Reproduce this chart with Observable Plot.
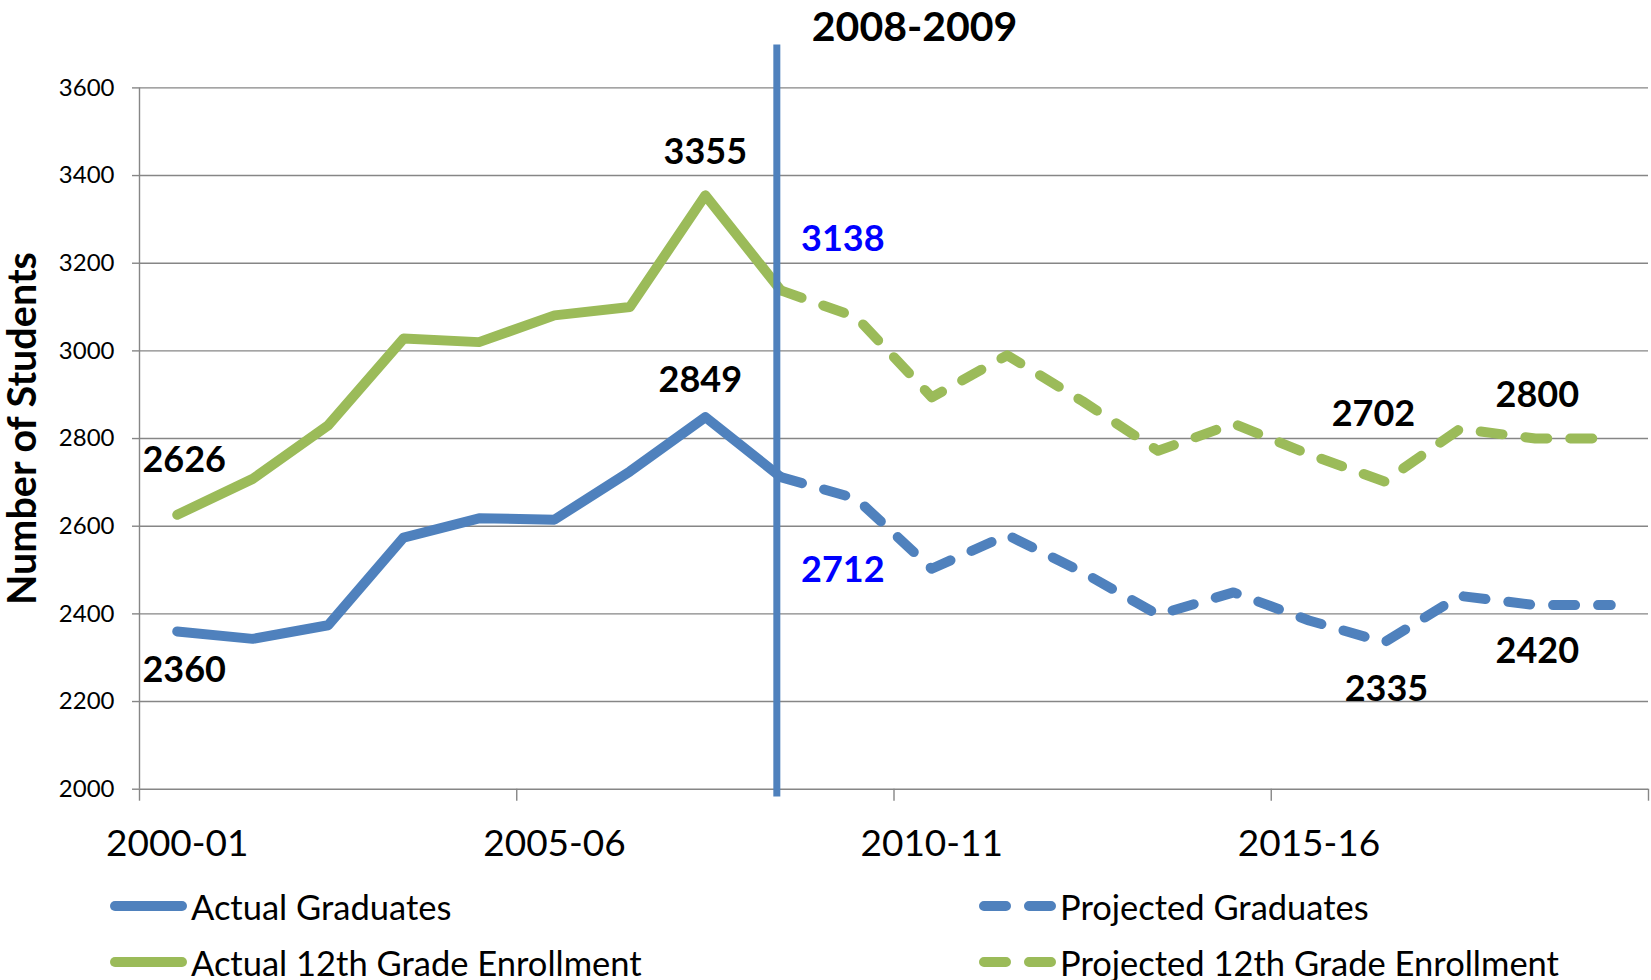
<!DOCTYPE html>
<html><head><meta charset="utf-8">
<script src="https://cdn.jsdelivr.net/npm/d3@7"></script>
<script src="https://cdn.jsdelivr.net/npm/@observablehq/plot@0.6"></script>
<style>
body{margin:0;background:#fff;font-family:Lato,sans-serif;overflow:hidden;}
#legend{display:grid;grid-template-columns:869px auto;padding-left:110px;}
.item{display:flex;align-items:center;height:56px;font-size:34.5px;color:#000;white-space:nowrap;}
.item svg{margin-right:4px;flex:none;}
</style></head><body>
<div id="chart"></div><div id="legend"></div>
<script>
// ---- data ----
const years = ["2000-01","2001-02","2002-03","2003-04","2004-05","2005-06","2006-07","2007-08","2008-09","2009-10",
               "2010-11","2011-12","2012-13","2013-14","2014-15","2015-16","2016-17","2017-18","2018-19","2019-20"];
const actualStart = "2000-01";
const actualGraduates = [2360, 2343, 2374, 2574, 2618, 2615, 2725, 2849, 2712];
const actualEnrollment = [2626, 2708, 2830, 3028, 3020, 3081, 3100, 3355, 3138];
const projectedStart = "2008-09";
const projectedGraduates = [2712, 2663, 2503, 2580, 2495, 2398, 2449, 2385, 2335, 2441, 2420, 2420];
const projectedEnrollment = [3138, 3077, 2894, 2990, 2885, 2772, 2834, 2764, 2702, 2822, 2800, 2800];
const yTicks = [2000, 2200, 2400, 2600, 2800, 3000, 3200, 3400, 3600];
const xTickLabels = ["2000-01", "2005-06", "2010-11", "2015-16"];
const dividerYear = "2008-09";
const dividerLabel = "2008-2009";
const yLabel = "Number of Students";
const seriesNames = ["Actual Graduates", "Projected Graduates", "Actual 12th Grade Enrollment", "Projected 12th Grade Enrollment"];

// ---- styling ----
const blue = "#4F81BD", green = "#9BBB59", gridColor = "#868686";
const dash = "22 23";
const lineW = 10;

const ix = (y) => years.indexOf(y) + 0.5;
const rows = (start, values) => values.map((v, i) => ({x: years.indexOf(start) + i + 0.5, y: v}));
const valueAt = (start, values, year) => values[years.indexOf(year) - years.indexOf(start)];

function label(start, values, year, color, dx, dy) {
  return Plot.text([{x: ix(year), y: valueAt(start, values, year)}], {
    x: "x", y: "y", text: d => String(d.y), dx, dy,
    fill: color, fontSize: 36, fontWeight: "bold"
  });
}

const boundaryTicks = d3.range(0, years.length + 1, 5);

const chart = Plot.plot({
  width: 1651,
  height: 878,
  marginLeft: 139,
  marginRight: 3,
  marginTop: 87.4,
  marginBottom: 89.3,
  style: {fontFamily: "Lato, sans-serif", color: "#000", background: "#fff", overflow: "visible"},
  x: {type: "linear", domain: [0, years.length]},
  y: {domain: [2000, 3600]},
  marks: [
    Plot.gridY(yTicks, {stroke: gridColor, strokeOpacity: 1, strokeWidth: 1.4}),
    Plot.ruleX([0], {y1: 2000, y2: 3600, stroke: gridColor, strokeWidth: 1.4}),
    Plot.axisY({ticks: yTicks, tickSize: 7, tickPadding: 18, fontSize: 24, tickFormat: d3.format("d"),
                stroke: gridColor, strokeWidth: 1.4, label: null}),
    Plot.axisX({ticks: boundaryTicks, tickSize: 12, tickFormat: () => "", stroke: gridColor, strokeWidth: 1.4, label: null}),
    Plot.axisX({ticks: xTickLabels.map(ix), tickSize: 0, tickPadding: 41, fontSize: 37,
                tickFormat: v => years[Math.floor(v)], label: null}),
    Plot.line(rows(actualStart, actualGraduates), {x: "x", y: "y", stroke: blue, strokeWidth: lineW, strokeLinejoin: "round", strokeLinecap: "round"}),
    Plot.line(rows(actualStart, actualEnrollment), {x: "x", y: "y", stroke: green, strokeWidth: lineW, strokeLinejoin: "round", strokeLinecap: "round"}),
    Plot.line(rows(projectedStart, projectedGraduates), {x: "x", y: "y", stroke: blue, strokeWidth: lineW, strokeDasharray: dash, strokeLinejoin: "round", strokeLinecap: "round"}),
    Plot.line(rows(projectedStart, projectedEnrollment), {x: "x", y: "y", stroke: green, strokeWidth: lineW, strokeDasharray: dash, strokeLinejoin: "round", strokeLinecap: "round"}),
    Plot.ruleX([ix(dividerYear)], {y1: 1982, y2: 3698, dx: -4, stroke: blue, strokeWidth: 7}),
    Plot.text([dividerLabel], {x: ix(dividerYear), frameAnchor: "top", dx: 31, dy: -76, textAnchor: "start",
                               fontSize: 41, fontWeight: "bold", fill: "#000"}),
    Plot.text([yLabel], {frameAnchor: "left", textAnchor: "middle", rotate: -90, dx: -116, dy: -10,
                         fontSize: 39.5, fontWeight: "bold", fill: "#000"}),
    label(actualStart, actualEnrollment, "2000-01", "#000", 7, -54),
    label(actualStart, actualGraduates, "2000-01", "#000", 7, 39),
    label(actualStart, actualEnrollment, "2007-08", "#000", 0, -43),
    label(actualStart, actualGraduates, "2007-08", "#000", -5, -37),
    label(projectedStart, projectedEnrollment, "2008-09", "#0000FF", 62, -51),
    label(projectedStart, projectedGraduates, "2008-09", "#0000FF", 62, 93),
    label(projectedStart, projectedEnrollment, "2016-17", "#000", -11, -67),
    label(projectedStart, projectedGraduates, "2016-17", "#000", 2, 47),
    label(projectedStart, projectedEnrollment, "2018-19", "#000", 2, -43),
    label(projectedStart, projectedGraduates, "2018-19", "#000", 2, 46)
  ]
});
document.getElementById("chart").appendChild(chart);

// ---- legend ----
const legendItems = [
  {name: seriesNames[0], color: blue, dashed: false},
  {name: seriesNames[1], color: blue, dashed: true},
  {name: seriesNames[2], color: green, dashed: false},
  {name: seriesNames[3], color: green, dashed: true}
];
const legend = document.getElementById("legend");
for (const it of legendItems) {
  const div = document.createElement("div");
  div.className = "item";
  div.innerHTML = `<svg width="77" height="14"><line x1="5" y1="7" x2="72" y2="7" stroke="${it.color}" stroke-width="${lineW}" stroke-linecap="round" ${it.dashed ? `stroke-dasharray="${dash}"` : ""}/></svg><span>${it.name}</span>`;
  legend.appendChild(div);
}
</script>
</body></html>
